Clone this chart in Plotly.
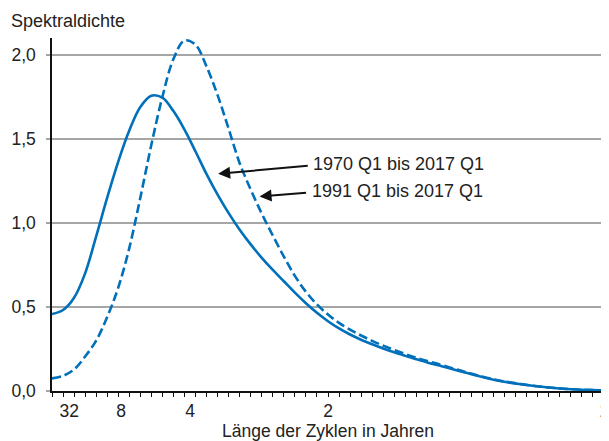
import plotly.graph_objects as go

# Frequency in cycles per year (1 / cycle length in years)
freq = [0, 0.02, 0.04, 0.06, 0.08, 0.10, 0.12, 0.14, 0.16, 0.18, 0.20, 0.22, 0.24,
        0.26, 0.28, 0.30, 0.32, 0.34, 0.36, 0.38, 0.40, 0.42, 0.44, 0.46, 0.48, 0.50,
        0.52, 0.54, 0.56, 0.58, 0.60, 0.62, 0.64, 0.66, 0.68, 0.70, 0.75, 0.80, 0.85,
        0.90, 0.95, 1.0]

dens_1970 = [0.458, 0.482, 0.555, 0.70, 0.92, 1.15, 1.365, 1.55, 1.69, 1.757, 1.745, 1.665, 1.555,
             1.425, 1.29, 1.168, 1.058, 0.96, 0.872, 0.792, 0.72, 0.653, 0.585, 0.522, 0.465, 0.415,
             0.372, 0.336, 0.305, 0.278, 0.253, 0.23, 0.209, 0.189, 0.17, 0.153, 0.108, 0.067, 0.04,
             0.021, 0.009, 0.004]

dens_1991 = [0.075, 0.09, 0.128, 0.205, 0.30, 0.44, 0.615, 0.85, 1.15, 1.465, 1.75, 1.975, 2.085,
             2.06, 1.93, 1.76, 1.56, 1.355, 1.198, 1.055, 0.925, 0.80, 0.685, 0.59, 0.515, 0.455,
             0.405, 0.365, 0.33, 0.298, 0.27, 0.244, 0.22, 0.198, 0.178, 0.16, 0.112, 0.07, 0.041,
             0.021, 0.009, 0.004]

x_tick_years = ["32", "8", "4", "2", "1"]
x_tick_vals = [1 / 32, 1 / 8, 1 / 4, 1 / 2, 1]
y_tick_vals = [0, 0.5, 1.0, 1.5, 2.0]
y_tick_text = ["0,0", "0,5", "1,0", "1,5", "2,0"]

label_1970 = "1970 Q1 bis 2017 Q1"
label_1991 = "1991 Q1 bis 2017 Q1"

BLUE = "#0070ba"
FONT = "Liberation Sans"
TXT = "#222222"
FS = 18
FS_AX = 17.5

fig = go.Figure()
fig.add_trace(go.Scatter(x=freq, y=dens_1970, mode="lines", name=label_1970,
                         line=dict(color=BLUE, width=2.6, shape="spline", smoothing=1)))
fig.add_trace(go.Scatter(x=freq, y=dens_1991, mode="lines", name=label_1991,
                         line=dict(color=BLUE, width=2.6, dash="9px,4px", shape="spline", smoothing=1)))

# arrows
fig.add_annotation(x=0.301, y=1.292, ax=0.466, ay=1.341, xref="x", yref="y", axref="x", ayref="y",
                   text="", showarrow=True, arrowhead=2, arrowsize=1.2, arrowwidth=2, arrowcolor="#111")
fig.add_annotation(x=0.376, y=1.157, ax=0.463, ay=1.18, xref="x", yref="y", axref="x", ayref="y",
                   text="", showarrow=True, arrowhead=2, arrowsize=1.2, arrowwidth=2, arrowcolor="#111")
fig.add_annotation(x=0.469, y=1.348, xref="x", yref="y", text=label_1970, showarrow=False,
                   xanchor="left", yanchor="middle", font=dict(family=FONT, size=FS, color=TXT))
fig.add_annotation(x=0.468, y=1.1875, xref="x", yref="y", text=label_1991, showarrow=False,
                   xanchor="left", yanchor="middle", font=dict(family=FONT, size=FS, color=TXT))

# y-axis title at top-left
fig.add_annotation(x=-0.0785, y=1.048, xref="paper", yref="paper", text="Spektraldichte",
                   showarrow=False, xanchor="left", yanchor="middle",
                   font=dict(family=FONT, size=FS, color=TXT))

# the page body has an 8px margin, so the figure is sized to fill the rest of the window
fig.update_layout(
    width=601, height=433,
    margin=dict(l=43.5, r=5, t=30, b=50),
    paper_bgcolor="white", plot_bgcolor="white",
    showlegend=False,
    font=dict(family=FONT, size=FS_AX, color=TXT),
    xaxis=dict(
        range=[0, 1], tickmode="array", tickvals=x_tick_vals, ticktext=x_tick_years,
        ticks="", showgrid=False, zeroline=False, ticklabelstandoff=3,
        ticklabeloverflow="allow",
        showline=True, linecolor="#111", linewidth=1.5,
        minor=dict(tickmode="linear", tick0=0, dtick=0.02, ticks="outside", ticklen=4,
                   tickcolor="#111", tickwidth=1, showgrid=False),
        title=dict(text="Länge der Zyklen in Jahren", standoff=5,
                   font=dict(family=FONT, size=FS_AX, color=TXT)),
        automargin=False,
    ),
    yaxis=dict(
        range=[0, 2.1], tickmode="array", tickvals=y_tick_vals, ticktext=y_tick_text,
        ticks="outside", ticklen=4, tickcolor="#a6a6a6", tickwidth=1.5, ticklabelstandoff=7,
        showgrid=True, gridcolor="#a6a6a6", gridwidth=1.5, zeroline=False,
        showline=True, linecolor="#111", linewidth=1.5,
        automargin=False,
    ),
)

fig.write_html("out.html")
